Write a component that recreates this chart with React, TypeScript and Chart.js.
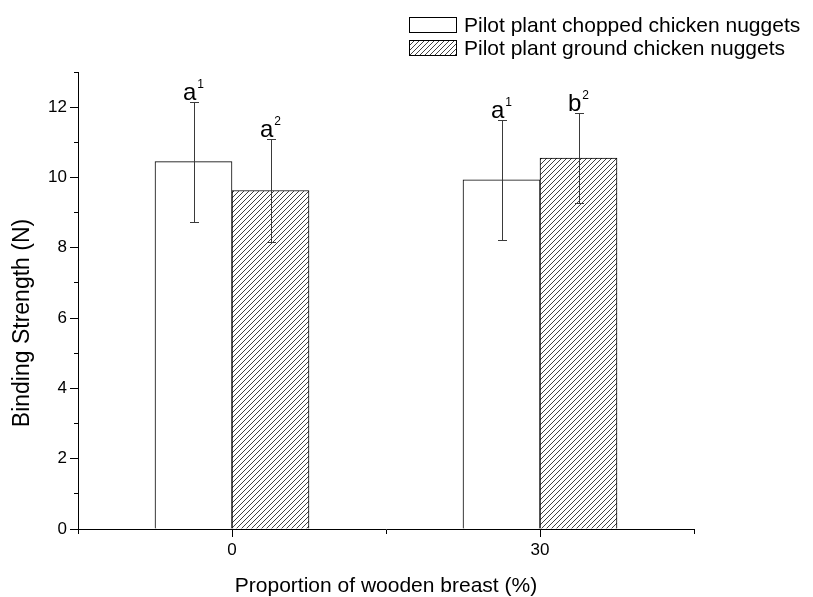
import React, { useEffect, useRef } from 'react';
import { Chart, registerables } from 'chart.js';

Chart.register(...registerables);

// Binding strength of pilot plant chicken nuggets by wooden breast proportion
const seriesNames = ['Pilot plant chopped chicken nuggets', 'Pilot plant ground chicken nuggets'];
const woodenBreastLevels = [0, 30];
const choppedMeans = [10.45, 9.93];
const choppedErrors = [1.71, 1.7];
const groundMeans = [9.63, 10.55];
const groundErrors = [1.47, 1.27];
const choppedLetters = ['a', 'a'];
const choppedSuperscripts = ['1', '1'];
const groundLetters = ['a', 'b'];
const groundSuperscripts = ['2', '2'];
const xTickLabels = ['0', '30'];
const yMax = 13;

const FONT = '"Liberation Sans", Arial, Helvetica, sans-serif';
const font = (size: number) => `${size}px ${FONT}`;

function makeHatch(): CanvasPattern | string {
  const tile = document.createElement('canvas');
  tile.width = 5;
  tile.height = 5;
  const c = tile.getContext('2d');
  if (!c) return '#999';
  c.fillStyle = '#ffffff';
  c.fillRect(0, 0, 5, 5);
  c.strokeStyle = '#2a2a2a';
  c.lineWidth = 0.9;
  c.beginPath();
  c.moveTo(-1, 6);
  c.lineTo(6, -1);
  c.moveTo(-1, 1);
  c.lineTo(1, -1);
  c.moveTo(4, 6);
  c.lineTo(6, 4);
  c.stroke();
  const p = c.createPattern(tile, 'repeat');
  return p || '#999';
}

const errorBarsPlugin = {
  id: 'errorBars',
  afterDatasetsDraw(chart: any) {
    const ctx = chart.ctx;
    const yScale = chart.scales.y;
    ctx.save();
    chart.data.datasets.forEach((ds: any, di: number) => {
      const meta = chart.getDatasetMeta(di);
      meta.data.forEach((bar: any, i: number) => {
        const v = ds.data[i].y;
        const e = ds.errors[i];
        const top = Math.round(yScale.getPixelForValue(v + e)) + 0.5;
        const bot = Math.round(yScale.getPixelForValue(v - e)) + 0.5;
        const x = Math.round(bar.x) + 0.5;
        ctx.strokeStyle = '#3a3a3a';
        ctx.lineWidth = 1;
        ctx.beginPath();
        ctx.moveTo(x, top);
        ctx.lineTo(x, bot);
        ctx.moveTo(x - 4.5, top);
        ctx.lineTo(x + 4.5, top);
        ctx.moveTo(x - 4.5, bot);
        ctx.lineTo(x + 4.5, bot);
        ctx.stroke();

        // significance letter with superscript group index
        const letter = ds.letters[i];
        const sup = ds.superscripts[i];
        ctx.fillStyle = '#000';
        ctx.textBaseline = 'alphabetic';
        ctx.textAlign = 'left';
        ctx.font = font(24);
        const wl = ctx.measureText(letter).width;
        ctx.font = font(12);
        const ws = ctx.measureText(sup).width;
        const gap = 1;
        const start = bar.x - (wl + gap + ws) / 2;
        const base = top - 3;
        ctx.font = font(24);
        ctx.fillText(letter, start, base);
        ctx.font = font(12);
        ctx.fillText(sup, start + wl + gap, base - 12);
      });
    });
    ctx.restore();
  },
};

const decorPlugin = {
  id: 'decor',
  afterDraw(chart: any) {
    const ctx = chart.ctx;
    const area = chart.chartArea;
    ctx.save();
    ctx.fillStyle = '#000';

    // legend
    chart.data.datasets.forEach((ds: any, di: number) => {
      const bx = 409.5;
      const by = 17.5 + di * 23;
      ctx.fillStyle = ds.backgroundColor;
      ctx.fillRect(bx, by, 47, 15);
      ctx.strokeStyle = '#000';
      ctx.lineWidth = 1;
      ctx.strokeRect(bx, by, 47, 15);
      ctx.fillStyle = '#000';
      ctx.font = font(21);
      ctx.textAlign = 'left';
      ctx.textBaseline = 'alphabetic';
      ctx.fillText(ds.label, 464, 32 + di * 23);
    });

    // axis titles
    ctx.font = font(21);
    ctx.textAlign = 'center';
    ctx.textBaseline = 'alphabetic';
    ctx.fillText('Proportion of wooden breast (%)', (area.left + area.right) / 2, 592);

    ctx.save();
    ctx.translate(28.5, 323);
    ctx.rotate(-Math.PI / 2);
    ctx.font = font(23);
    ctx.fillText('Binding Strength (N)', 0, 0);
    ctx.restore();

    ctx.restore();
  },
};

export default function App() {
  const canvasRef = useRef<HTMLCanvasElement | null>(null);

  useEffect(() => {
    document.body.style.margin = '0';
    const canvas = canvasRef.current;
    if (!canvas) return;
    const hatch = makeHatch();

    const chart = new Chart(canvas, {
      type: 'bar',
      data: {
        datasets: [
          {
            label: seriesNames[0],
            data: woodenBreastLevels.map((x, i) => ({ x, y: choppedMeans[i] })),
            backgroundColor: '#ffffff',
            borderColor: '#000000',
            borderWidth: 1,
            errors: choppedErrors,
            letters: choppedLetters,
            superscripts: choppedSuperscripts,
          } as any,
          {
            label: seriesNames[1],
            data: woodenBreastLevels.map((x, i) => ({ x, y: groundMeans[i] })),
            backgroundColor: hatch,
            borderColor: '#000000',
            borderWidth: 1,
            errors: groundErrors,
            letters: groundLetters,
            superscripts: groundSuperscripts,
          } as any,
        ],
      },
      options: {
        responsive: false,
        animation: false,
        devicePixelRatio: 1,
        categoryPercentage: 1,
        barPercentage: 1,
        layout: { padding: { left: 0, right: 119, top: 72, bottom: 0 } },
        plugins: {
          legend: { display: false },
          tooltip: { enabled: false },
          title: { display: false },
        },
        scales: {
          x: {
            type: 'linear',
            min: -15,
            max: 45,
            offset: false,
            z: 1,
            border: { display: true, color: '#000', width: 1 },
            grid: {
              offset: false,
              drawOnChartArea: false,
              color: '#000',
              tickLength: 8,
              tickColor: '#000',
              tickBorderDash: (ctx: any) =>
                xTickLabels.includes(String(ctx.tick?.value)) ? [] : [4, 100],
            },
            ticks: {
              stepSize: 15,
              autoSkip: false,
              maxRotation: 0,
              color: '#000',
              font: { family: FONT, size: 17 },
              padding: 3,
              callback: (v: any) => (xTickLabels.includes(String(v)) ? String(v) : ''),
            },
            afterFit: (scale: any) => {
              scale.height = 68;
            },
          },
          y: {
            min: 0,
            max: yMax,
            z: 1,
            border: { display: true, color: '#000', width: 1 },
            grid: {
              drawOnChartArea: false,
              color: '#000',
              tickLength: 8,
              tickColor: '#000',
              tickBorderDash: (ctx: any) =>
                ctx.tick && ctx.tick.value % 2 === 0 ? [] : [0, 4, 4, 100],
            },
            ticks: {
              stepSize: 1,
              autoSkip: false,
              color: '#000',
              font: { family: FONT, size: 17 },
              padding: 3,
              callback: (v: any) => (Number(v) % 2 === 0 ? String(v) : ''),
            },
            afterFit: (scale: any) => {
              scale.width = 78;
            },
          },
        },
      } as any,
      plugins: [errorBarsPlugin, decorPlugin],
    });

    return () => chart.destroy();
  }, []);

  return <canvas ref={canvasRef} width={813} height={597} style={{ display: 'block' }} />;
}
